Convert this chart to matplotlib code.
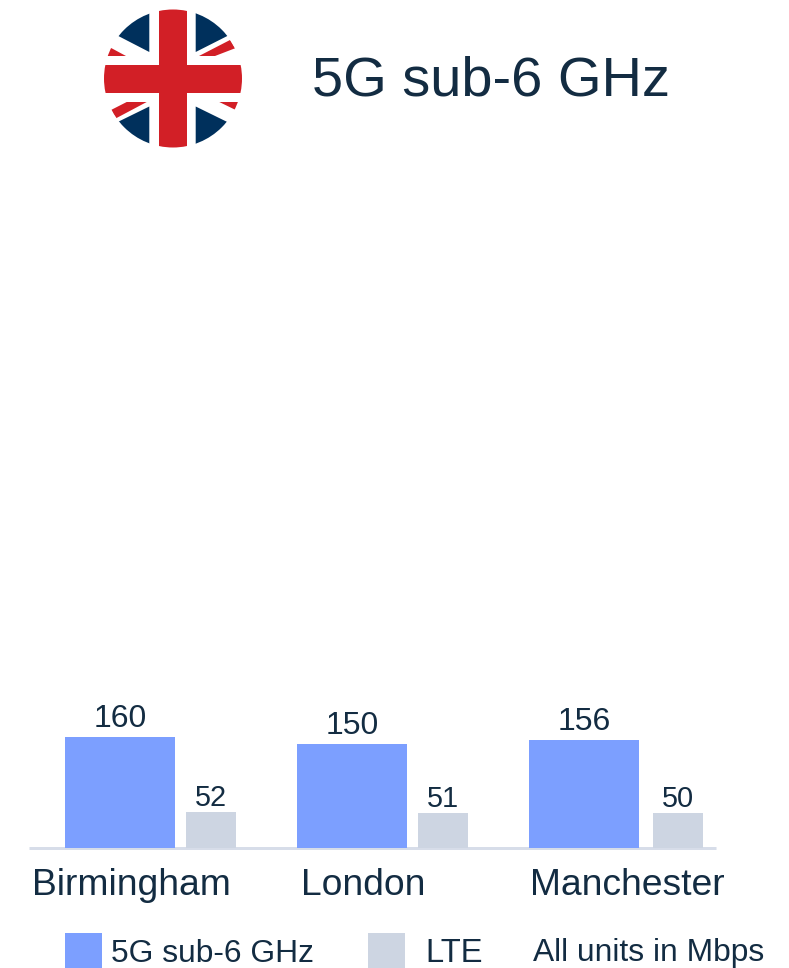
import matplotlib
matplotlib.use("Agg")
import matplotlib.pyplot as plt
from matplotlib.patches import Circle, Polygon, Rectangle

plt.rcParams['font.family'] = ['Liberation Sans', 'DejaVu Sans']

cities = ['Birmingham', 'London', 'Manchester']
sub6 = [160, 150, 156]
lte = [52, 51, 50]

title = '5G sub-6 GHz'
legend_names = ['5G sub-6 GHz', 'LTE']
units_note = 'All units in Mbps'

BLUE = '#7c9fff'
GREY = '#cdd5e2'
INK = '#132c42'
AXIS = '#d7dde9'
NAVY = '#00305c'
RED = '#d21f26'

W, H = 789, 968
PX = 72 / 100

fig = plt.figure(figsize=(W / 100, H / 100), dpi=100)

# full-figure layer in pixels for the flag, heading and key
top = fig.add_axes([0, 0, 1, 1])
top.set_xlim(0, W)
top.set_ylim(H, 0)
top.axis('off')

# round union flag
cx, cy, r = 173, 78.5, 69
disc = Circle((cx, cy), r, transform=top.transData)
flag = [
    (Rectangle((cx - r, cy - r), 2 * r, 2 * r), 'white'),
    (Polygon([(149.3, 0), (149.3, 52), (118.3, 36), (90, 21.5), (90, 0)]), NAVY),
    (Polygon([(195.7, 0), (195.7, 52), (227.3, 36), (256, 21.5), (256, 0)]), NAVY),
    (Polygon([(149.3, 160), (149.3, 106.5), (118.3, 121.7), (90, 136), (90, 160)]), NAVY),
    (Polygon([(195.7, 160), (195.7, 106.5), (226.7, 121.7), (256, 136), (256, 160)]), NAVY),
    (Polygon([(111.7, 48.3), (126, 56), (100, 56), (100, 44)]), RED),
    (Polygon([(199, 56), (230, 40), (235, 48.3), (215, 56)]), RED),
    (Polygon([(111, 110), (116, 118.3), (146.7, 102), (126.7, 102)]), RED),
    (Polygon([(219.3, 102), (245, 102), (245, 112), (235.7, 110)]), RED),
    (Rectangle((159, 0), 27.7, 160), RED),
    (Rectangle((90, 65.3), 170, 27.4), RED),
]
for patch, colour in flag:
    patch.set(facecolor=colour, edgecolor='none', clip_path=disc)
    top.add_patch(patch)

top.text(312, 95.5, title, fontsize=40.3, color=INK, va='baseline', ha='left')

# key along the bottom edge
top.add_patch(Rectangle((65, 933), 37, 36, facecolor=BLUE, edgecolor='none'))
top.add_patch(Rectangle((368, 933), 37, 36, facecolor=GREY, edgecolor='none'))
top.text(111, 961.5, legend_names[0], fontsize=22.9, color=INK, va='baseline')
top.text(425, 961.5, legend_names[1], fontsize=23.6, color=INK, va='baseline')
top.text(533, 961, units_note, fontsize=22.9, color=INK, va='baseline')

# bars: one x unit is the 232 px step between cities
STEP = 232
BASE = 848
y_top = 1000
y_scale = 111 / 160
ax = fig.add_axes([29 / W, (H - BASE) / H, (716 - 29) / W, y_top * y_scale / H])
ax.patch.set_alpha(0)
ax.set_xlim((29 - 120) / STEP, (716 - 120) / STEP)
ax.set_ylim(0, y_top)

xs = list(range(len(cities)))
lte_offset = [91 / STEP, 91 / STEP, 94 / STEP]
lte_x = [x + off for x, off in zip(xs, lte_offset)]
label_x = [x + off / STEP for x, off in zip(xs, [11, 11.5, 43.5])]

b1 = ax.bar(xs, sub6, 110 / STEP, color=BLUE, zorder=3)
b2 = ax.bar(lte_x, lte, 50 / STEP, color=GREY, zorder=3)
ax.bar_label(b1, fontsize=23, color=INK, padding=2)
ax.bar_label(b2, fontsize=20.8, color=INK, padding=0)

for side in ['top', 'left', 'right']:
    ax.spines[side].set_visible(False)
ax.spines['bottom'].set_color(AXIS)
ax.spines['bottom'].set_linewidth(3 * PX)
ax.spines['bottom'].set_capstyle('butt')
ax.set_yticks([])
ax.set_xticks(label_x)
ax.set_xticklabels(cities, fontsize=26.8, color=INK)
ax.tick_params(axis='x', length=0, pad=14.6)

fig.savefig('out.png', dpi=100)
